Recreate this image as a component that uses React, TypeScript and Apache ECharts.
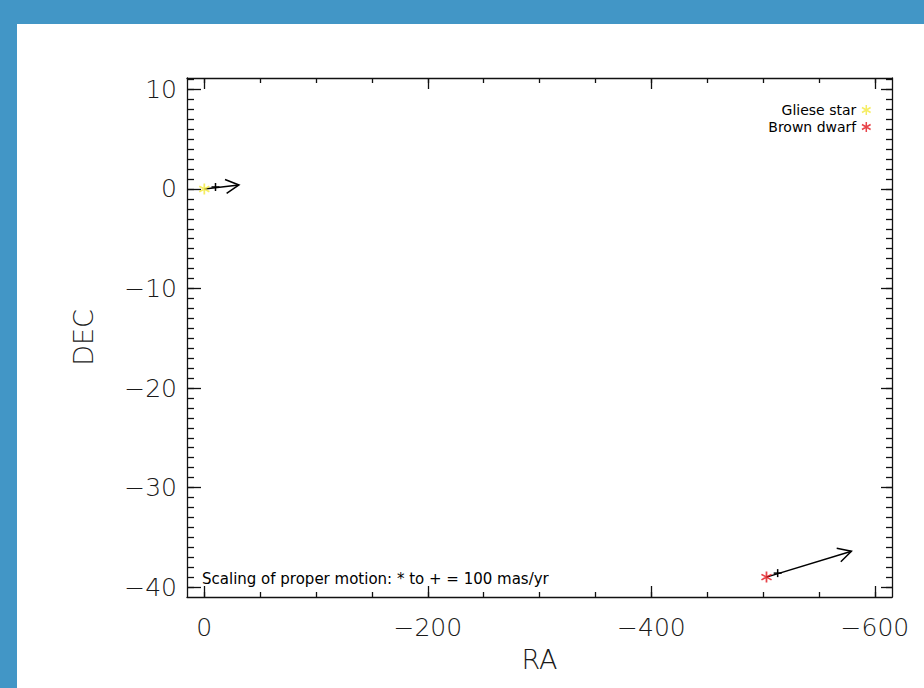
import React, { useEffect, useRef } from "react";
import * as echarts from "echarts";

// ---- data ----
const seriesNames = ["Gliese star", "Brown dwarf"];
const starRA = [0, -503];
const starDEC = [0, -39.0];
const plusRA = [-10, -513];
const plusDEC = [0.2, -38.6];
const tipRA = [-31, -579];
const tipDEC = [0.4, -36.4];
const starColors = ["#f2e83c", "#e2141b"];

const raMajorTicks = [0, -200, -400, -600];
const raMinorTicks = [0, -50, -100, -150, -200, -250, -300, -350, -400, -450, -500, -550, -600];
const decMajorTicks = [10, 0, -10, -20, -30, -40];
const decMinorTicks: number[] = [];
for (let v = -40; v <= 11; v++) decMinorTicks.push(v);

const RA_MIN = -615.3;
const RA_MAX = 15.5;
const DEC_MIN = -41.0;
const DEC_MAX = 11.15;

const annotation = "Scaling of proper motion: * to + = 100 mas/yr";

const ASTERISK =
  "path://M8.5 0 L11.5 0 L11.5 20 L8.5 20 Z " +
  "M2.09 3.70 L19.41 13.70 L17.91 16.30 L0.59 6.30 Z " +
  "M0.59 13.70 L17.91 3.70 L19.41 6.30 L2.09 16.30 Z";

const AXIS_COLOR = "#111111";
const LABEL_COLOR = "#1a1a1a";
const TICK_FONT = "DejaVu Sans";

const fmt = (v: number) => (v < 0 ? "\u2212" + Math.abs(v) : String(v));

function xAxisDef(position: string, ticks: number[], len: number, labels: boolean, line: boolean) {
  return {
    type: "value",
    position,
    inverse: true,
    min: RA_MIN,
    max: RA_MAX,
    splitLine: { show: false },
    axisLine: { show: line, onZero: false, lineStyle: { color: AXIS_COLOR, width: 1.3 } },
    axisTick: { show: true, inside: true, length: len, customValues: ticks, lineStyle: { color: AXIS_COLOR, width: 1.3 } },
    axisLabel: labels
      ? {
          show: true,
          customValues: ticks,
          formatter: fmt,
          margin: 18,
          fontSize: 25,
          fontWeight: 200,
          fontFamily: TICK_FONT,
          color: LABEL_COLOR,
        }
      : { show: false },
  };
}

function yAxisDef(position: string, ticks: number[], len: number, labels: boolean, line: boolean) {
  return {
    type: "value",
    position,
    min: DEC_MIN,
    max: DEC_MAX,
    splitLine: { show: false },
    axisLine: { show: line, onZero: false, lineStyle: { color: AXIS_COLOR, width: 1.3 } },
    axisTick: { show: true, inside: true, length: len, customValues: ticks, lineStyle: { color: AXIS_COLOR, width: 1.3 } },
    axisLabel: labels
      ? {
          show: true,
          customValues: ticks,
          formatter: fmt,
          margin: 10,
          fontSize: 25,
          fontWeight: 200,
          fontFamily: TICK_FONT,
          color: LABEL_COLOR,
        }
      : { show: false },
  };
}

export default function App() {
  const ref = useRef<HTMLDivElement>(null);

  useEffect(() => {
    if (!ref.current) return;
    const chart = echarts.init(ref.current, undefined, { renderer: "svg" });

    const xAxes: any[] = [
      { ...xAxisDef("bottom", raMajorTicks, 11, true, true), name: "RA", nameLocation: "middle", nameGap: 49,
        nameTextStyle: { fontSize: 27, fontWeight: 200, fontFamily: TICK_FONT, color: LABEL_COLOR } },
      xAxisDef("bottom", raMinorTicks, 5, false, false),
      xAxisDef("top", raMajorTicks, 11, false, true),
      xAxisDef("top", raMinorTicks, 5, false, false),
    ];
    const yAxes: any[] = [
      { ...yAxisDef("left", decMajorTicks, 14, true, true), name: "DEC", nameLocation: "middle", nameGap: 90,
        nameTextStyle: { fontSize: 27, fontWeight: 200, fontFamily: TICK_FONT, color: LABEL_COLOR } },
      yAxisDef("left", decMinorTicks, 7, false, false),
      yAxisDef("right", decMajorTicks, 11, false, true),
      yAxisDef("right", decMinorTicks, 6, false, false),
    ];

    const arrowData = starRA.map((_, i) => [starRA[i], starDEC[i], plusRA[i], plusDEC[i], tipRA[i], tipDEC[i]]);

    const option: any = {
      animation: false,
      backgroundColor: "#ffffff",
      grid: { left: 187, right: 32, top: 78, bottom: 91, containLabel: false },
      xAxis: xAxes,
      yAxis: yAxes,
      legend: {
        data: seriesNames.map((n) => ({ name: n, icon: ASTERISK })),
        orient: "vertical",
        right: 48,
        top: 98,
        align: "right",
        itemWidth: 10,
        itemHeight: 10,
        itemGap: 3,
        selectedMode: false,
        textStyle: { fontSize: 14, fontFamily: "DejaVu Sans", color: "#000" },
      },
      graphic: [
        { type: "rect", shape: { x: 0, y: 0, width: 924, height: 24 }, style: { fill: "#4296c6" }, silent: true },
        { type: "rect", shape: { x: 0, y: 0, width: 17, height: 688 }, style: { fill: "#4296c6" }, silent: true },
        {
          type: "text",
          left: 202,
          top: 571,
          style: { text: annotation, fontSize: 15, fontFamily: "DejaVu Sans", fill: "#000" },
          silent: true,
        },
      ],
      series: [
        {
          type: "custom",
          name: "motion",
          xAxisIndex: 0,
          yAxisIndex: 0,
          z: 1,
          encode: { x: [0, 2, 4], y: [1, 3, 5] },
          data: arrowData,
          renderItem: (params: any, api: any) => {
            const s = api.coord([api.value(0), api.value(1)]);
            const p = api.coord([api.value(2), api.value(3)]);
            const t = api.coord([api.value(4), api.value(5)]);
            const dx = t[0] - s[0];
            const dy = t[1] - s[1];
            const len = Math.sqrt(dx * dx + dy * dy) || 1;
            const bx = -dx / len;
            const by = -dy / len;
            const th = (28 * Math.PI) / 180;
            const L = 15;
            const a1 = [t[0] + L * (bx * Math.cos(th) - by * Math.sin(th)), t[1] + L * (bx * Math.sin(th) + by * Math.cos(th))];
            const a2 = [t[0] + L * (bx * Math.cos(-th) - by * Math.sin(-th)), t[1] + L * (bx * Math.sin(-th) + by * Math.cos(-th))];
            const st = { stroke: "#000", lineWidth: 1.5 };
            const ps = 4;
            return {
              type: "group",
              children: [
                { type: "line", shape: { x1: s[0], y1: s[1], x2: t[0], y2: t[1] }, style: st },
                { type: "polyline", shape: { points: [a1, t, a2] }, style: { ...st, fill: "none" } },
                { type: "line", shape: { x1: p[0] - ps, y1: p[1], x2: p[0] + ps, y2: p[1] }, style: st },
                { type: "line", shape: { x1: p[0], y1: p[1] - ps, x2: p[0], y2: p[1] + ps }, style: st },
              ],
            };
          },
        },
        {
          type: "scatter",
          name: seriesNames[0],
          xAxisIndex: 0,
          yAxisIndex: 0,
          z: 3,
          symbol: ASTERISK,
          symbolSize: 11,
          itemStyle: { color: starColors[0] },
          data: [[starRA[0], starDEC[0]]],
        },
        {
          type: "scatter",
          name: seriesNames[1],
          xAxisIndex: 0,
          yAxisIndex: 0,
          z: 3,
          symbol: ASTERISK,
          symbolSize: 11,
          itemStyle: { color: starColors[1] },
          data: [[starRA[1], starDEC[1]]],
        },
      ],
    };

    chart.setOption(option);
    return () => chart.dispose();
  }, []);

  return (
    <div
      ref={ref}
      style={{ position: "absolute", left: 0, top: 0, width: 924, height: 688 }}
    />
  );
}
